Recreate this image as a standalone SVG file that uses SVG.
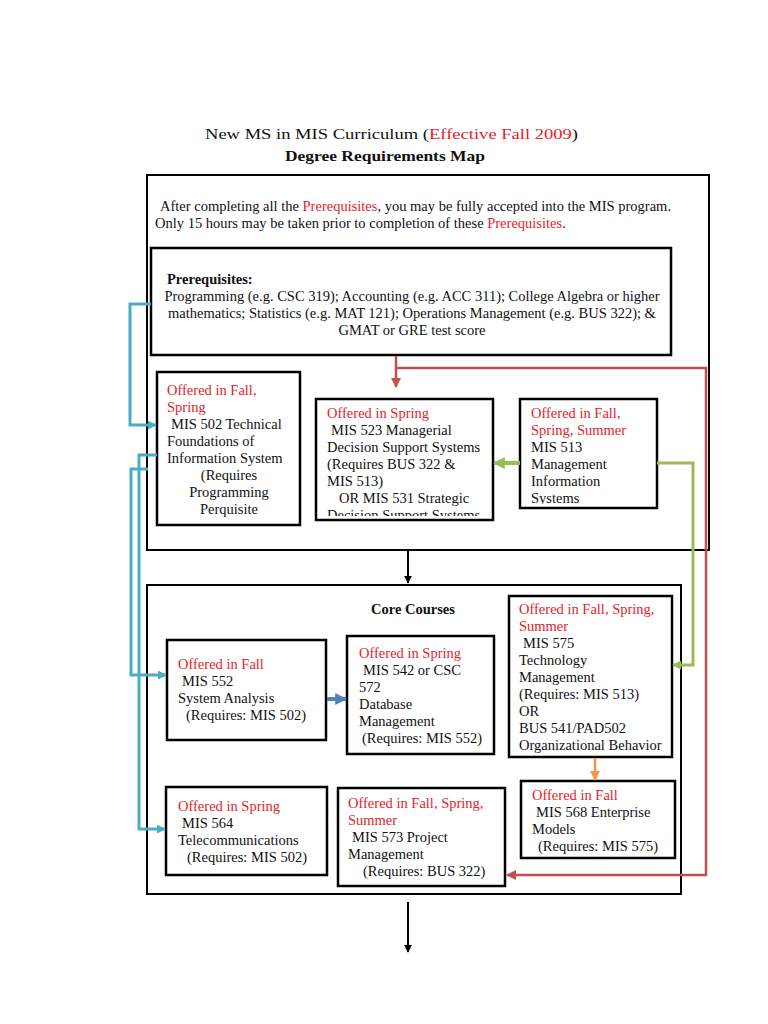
<svg xmlns="http://www.w3.org/2000/svg" width="768" height="1024" viewBox="0 0 768 1024">
<style>
text{font-family:"Liberation Serif","Times New Roman",serif;font-size:14.5px;fill:#111}
.r{fill:#e3232a}
.b{font-weight:bold}
.box{fill:#fff;stroke:#000;stroke-width:2.5}
.outer{fill:#fff;stroke:#000;stroke-width:2}
.c{fill:none}
</style>
<defs>
<marker id="ab" viewBox="0 0 10 10" refX="9" refY="5" markerWidth="4" markerHeight="4" orient="auto"><path d="M0,0L10,5L0,10z" fill="#000"/></marker>
<marker id="abl" viewBox="0 0 10 10" refX="9" refY="5" markerWidth="3" markerHeight="3" orient="auto"><path d="M0,0L10,5L0,10z" fill="#4bacc6"/></marker>
<marker id="abs" viewBox="0 0 10 10" refX="9" refY="5" markerWidth="3" markerHeight="3" orient="auto"><path d="M0,0L10,5L0,10z" fill="#4f81bd"/></marker>
<marker id="ag" viewBox="0 0 10 10" refX="9" refY="5" markerWidth="3" markerHeight="3" orient="auto"><path d="M0,0L10,5L0,10z" fill="#9bbb59"/></marker>
<marker id="ar" viewBox="0 0 10 10" refX="9" refY="5" markerWidth="4" markerHeight="4" orient="auto"><path d="M0,0L10,5L0,10z" fill="#c0504d"/></marker>
<marker id="ao" viewBox="0 0 10 10" refX="9" refY="5" markerWidth="4" markerHeight="4" orient="auto"><path d="M0,0L10,5L0,10z" fill="#f79646"/></marker>
<clipPath id="c523"><rect x="316" y="398" width="177" height="118"/></clipPath>
<clipPath id="c513"><rect x="520" y="398" width="137" height="106"/></clipPath>
</defs>

<g id="title">
<text x="205" y="139" font-size="19" textLength="373" lengthAdjust="spacingAndGlyphs">New MS in MIS Curriculum (<tspan class="r">Effective Fall 2009</tspan>)</text>
<text x="285" y="161" class="b" font-size="21.5" textLength="200" lengthAdjust="spacingAndGlyphs">Degree Requirements Map</text>
</g>

<g id="stage1">
<rect class="outer" x="147" y="175" width="562" height="375"/>
<text x="160" y="211">After completing all the <tspan class="r">Prerequisites</tspan>, you may be fully accepted into the MIS program.</text>
<text x="155" y="228">Only 15 hours may be taken prior to completion of these <tspan class="r">Prerequisites</tspan>.</text>
</g>

<g id="prereq">
<rect class="box" x="151" y="248" width="520" height="107"/>
<text x="167" y="284" class="b">Prerequisites:</text>
<text x="412" y="301" text-anchor="middle">Programming (e.g. CSC 319); Accounting (e.g. ACC 311); College Algebra or higher</text>
<text x="412" y="318" text-anchor="middle">mathematics; Statistics (e.g. MAT 121); Operations Management (e.g. BUS 322); &amp;</text>
<text x="412" y="335" text-anchor="middle">GMAT or GRE test score</text>
</g>

<g id="mis502">
<rect class="box" x="157" y="372" width="143" height="153"/>
<text x="167" y="395" class="r">Offered in Fall,</text>
<text x="167" y="412" class="r">Spring</text>
<text x="171" y="429">MIS 502 Technical</text>
<text x="167" y="446">Foundations of</text>
<text x="167" y="463">Information System</text>
<text x="229" y="480" text-anchor="middle">(Requires</text>
<text x="229" y="497" text-anchor="middle">Programming</text>
<text x="229" y="514" text-anchor="middle">Perquisite</text>
</g>

<g id="mis523">
<rect class="box" x="316" y="399" width="177" height="121"/>
<g clip-path="url(#c523)">
<text x="327" y="418" class="r">Offered in Spring</text>
<text x="331" y="435">MIS 523 Managerial</text>
<text x="327" y="452">Decision Support Systems</text>
<text x="327" y="469">(Requires BUS 322 &amp;</text>
<text x="327" y="486">MIS 513)</text>
<text x="339" y="503">OR MIS 531 Strategic</text>
<text x="327" y="520">Decision Support Systems</text>
</g>
</g>

<g id="mis513">
<rect class="box" x="520" y="399" width="137" height="109"/>
<g clip-path="url(#c513)">
<text x="531" y="418" class="r">Offered in Fall,</text>
<text x="531" y="435" class="r">Spring, Summer</text>
<text x="531" y="452">MIS 513</text>
<text x="531" y="469">Management</text>
<text x="531" y="486">Information</text>
<text x="531" y="503">Systems</text>
</g>
</g>

<g id="stage2">
<rect class="outer" x="147" y="585" width="534" height="309"/>
<text x="413" y="614" text-anchor="middle" class="b">Core Courses</text>
</g>

<g id="mis575">
<rect class="box" x="509" y="596" width="163" height="161"/>
<text x="519" y="614" class="r">Offered in Fall, Spring,</text>
<text x="519" y="631" class="r">Summer</text>
<text x="523" y="648">MIS 575</text>
<text x="519" y="665">Technology</text>
<text x="519" y="682">Management</text>
<text x="519" y="699">(Requires: MIS 513)</text>
<text x="519" y="716">OR</text>
<text x="519" y="733">BUS 541/PAD502</text>
<text x="519" y="750">Organizational Behavior</text>
</g>

<g id="mis552">
<rect class="box" x="167" y="640" width="159" height="100"/>
<text x="178" y="669" class="r">Offered in Fall</text>
<text x="182" y="686">MIS 552</text>
<text x="178" y="703">System Analysis</text>
<text x="186" y="720">(Requires: MIS 502)</text>
</g>

<g id="mis542">
<rect class="box" x="347" y="636" width="147" height="118"/>
<text x="359" y="658" class="r">Offered in Spring</text>
<text x="363" y="675">MIS 542 or CSC</text>
<text x="359" y="692">572</text>
<text x="359" y="709">Database</text>
<text x="359" y="726">Management</text>
<text x="362" y="743">(Requires: MIS 552)</text>
</g>

<g id="mis564">
<rect class="box" x="166" y="787" width="161" height="88"/>
<text x="178" y="811" class="r">Offered in Spring</text>
<text x="182" y="828">MIS 564</text>
<text x="178" y="845">Telecommunications</text>
<text x="187" y="862">(Requires: MIS 502)</text>
</g>

<g id="mis573">
<rect class="box" x="338" y="788" width="167" height="98"/>
<text x="348" y="808" class="r">Offered in Fall, Spring,</text>
<text x="348" y="825" class="r">Summer</text>
<text x="352" y="842">MIS 573 Project</text>
<text x="348" y="859">Management</text>
<text x="363" y="876">(Requires: BUS 322)</text>
</g>

<g id="mis568">
<rect class="box" x="521" y="781" width="154" height="77"/>
<text x="532" y="800" class="r">Offered in Fall</text>
<text x="536" y="817">MIS 568 Enterprise</text>
<text x="532" y="834">Models</text>
<text x="538" y="851">(Requires: MIS 575)</text>
</g>

<g id="connectors">
<path class="c" d="M408,551V583" stroke="#000" stroke-width="2" marker-end="url(#ab)"/>
<path class="c" d="M408,902V952" stroke="#000" stroke-width="2" marker-end="url(#ab)"/>
<path class="c" d="M151,304H130V425H156" stroke="#4bacc6" stroke-width="3" marker-end="url(#abl)"/>
<path class="c" d="M157,455H139V829H165" stroke="#4bacc6" stroke-width="3" marker-end="url(#abl)"/>
<path class="c" d="M148,469H131V675H166" stroke="#4bacc6" stroke-width="3" marker-end="url(#abl)"/>
<path class="c" d="M327,699H346" stroke="#4f81bd" stroke-width="4" marker-end="url(#abs)"/>
<path class="c" d="M520,463H494" stroke="#9bbb59" stroke-width="4" marker-end="url(#ag)"/>
<path class="c" d="M657,463H693V665H673" stroke="#9bbb59" stroke-width="3" marker-end="url(#ag)"/>
<path class="c" d="M396,356V387" stroke="#c0504d" stroke-width="2.5" marker-end="url(#ar)"/>
<path class="c" d="M396,368H706V875H507" stroke="#c0504d" stroke-width="2.5" marker-end="url(#ar)"/>
<path class="c" d="M595,758V780" stroke="#f79646" stroke-width="2.5" marker-end="url(#ao)"/>
</g>
</svg>
